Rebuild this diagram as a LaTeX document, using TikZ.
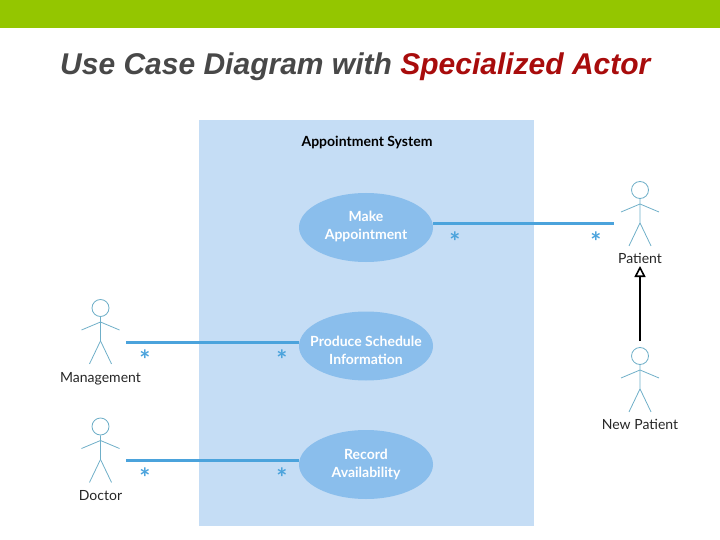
\documentclass[tikz,border=0pt]{standalone}
\usepackage{fontspec}
\setmainfont{Lato}
\newfontfamily\titlefont{Liberation Sans}
\usetikzlibrary{arrows.meta,shapes.geometric}
\definecolor{barGreen}{HTML}{94C600}
\definecolor{titleGrey}{HTML}{484848}
\definecolor{titleRed}{HTML}{A80C0C}
\definecolor{sysBlue}{HTML}{C5DDF5}
\definecolor{caseBlue}{HTML}{8ABEEC}
\definecolor{lineBlue}{HTML}{4BA3DC}
\definecolor{actorBlue}{HTML}{6FAFC8}
\tikzset{
  usecase/.style={ellipse,fill=caseBlue,minimum width=134pt,minimum height=69pt,inner sep=0pt},
  casetext/.style={inner sep=0pt,text=white,font=\fontsize{14}{18}\selectfont\bfseries,align=center},
  assoc/.style={draw=lineBlue,line width=3pt},
  multi/.style={text=lineBlue,font=\fontsize{26}{26}\selectfont\bfseries,inner sep=0pt},
  actorname/.style={font=\fontsize{14}{16}\selectfont,text=black!85,inner sep=0pt},
  head/.style={circle,draw=actorBlue,line width=0.8pt,minimum size=17pt,inner sep=0pt},
  limb/.style={draw=actorBlue,line width=0.8pt},
  generalize/.style={draw=black,line width=2.6pt,-{Triangle[open,length=11pt,width=11pt,line width=1.6pt]}}
}
\newcommand{\actorfig}[3]{% name, x, head y
  \node[head] (#1) at (#2,#3) {};
  \draw[limb] (#1.south) -- ++(0,24) coordinate (#1hip) -- ++(-11,23);
  \draw[limb] (#1hip) -- ++(11,23);
  \draw[limb] (#2-19,#3+22) -- (#2,#3+14) -- (#2+19,#3+22);
}
\begin{document}
\begin{tikzpicture}[x=1pt,y=-1pt]
\useasboundingbox (0,0) rectangle (720,540);
\fill[barGreen] (0,0) rectangle (720,28.5);
\node[anchor=base west,inner sep=0pt,font=\titlefont\bfseries\itshape\fontsize{30}{32}\selectfont] (title) at (60,75)
  {\textcolor{titleGrey}{Use Case Diagram with} \textcolor{titleRed}{Specialized Actor}};
\fill[sysBlue] (199,120) rectangle (534,526);
\node[font=\fontsize{14}{16}\selectfont\bfseries,text=black,inner sep=0pt] (system) at (367,142) {Appointment System};
\node[usecase] (make) at (366,227.5) {};
\node[usecase] (produce) at (366,346) {};
\node[usecase] (record) at (366,464.5) {};
\node[casetext] (maketext) at (366,226) {Make\\Appointment};
\node[casetext] (producetext) at (366,350) {Produce Schedule\\Information};
\node[casetext] (recordtext) at (366,464) {Record\\Availability};
\actorfig{patient}{640}{190}
\actorfig{newpatient}{640}{356}
\actorfig{management}{100.5}{308}
\actorfig{doctor}{100.5}{426.5}
\node[actorname] (patientlabel) at (640,258.5) {Patient};
\node[actorname] (newpatientlabel) at (640,424.5) {New Patient};
\node[actorname] (managementlabel) at (100.5,379) {Management};
\node[actorname] (doctorlabel) at (100.5,495.5) {Doctor};
\coordinate (patientend) at (614,224);
\coordinate (managementend) at (126,342);
\coordinate (doctorend) at (126,460.5);
\draw[assoc] (make.east |- patientend) -- (patientend);
\draw[assoc] (managementend) -- (produce.west |- managementend);
\draw[assoc] (doctorend) -- (record.west |- doctorend);
\draw[generalize] (newpatient.north)+(0,-6) -- (640,266);
\node[multi] (m1) at (455,242) {*};
\node[multi] (m2) at (596,242) {*};
\node[multi] (m3) at (145,360) {*};
\node[multi] (m4) at (282,360) {*};
\node[multi] (m5) at (145,478) {*};
\node[multi] (m6) at (282,478) {*};
\end{tikzpicture}
\end{document}
